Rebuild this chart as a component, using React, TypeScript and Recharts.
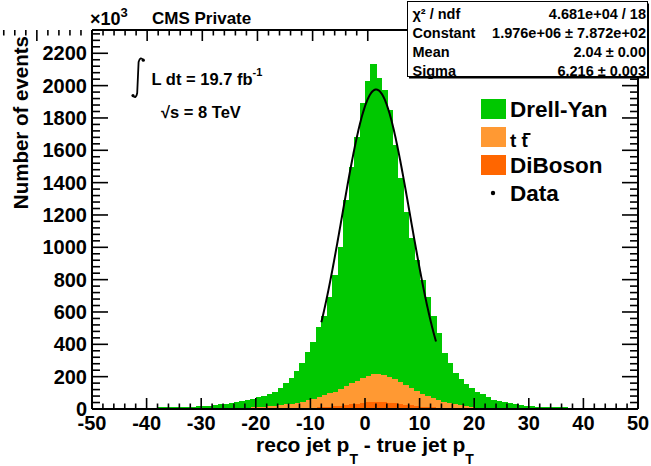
import React from 'react';
import { ComposedChart, Bar, Line, XAxis, YAxis, Legend } from 'recharts';

// Binning: 100 bins of width 1 from -50 to 50 (reco - true jet pT)
const binLowEdges: number[] = Array.from({ length: 100 }, (_, i) => -50 + i);

// Stacked simulated contributions per bin, in units of 10^3 events
const drellYan: number[] = [
  5, 5, 5, 5, 6, 6, 6, 6, 7, 7,
  7, 7, 8, 8, 9, 9, 10, 11, 12, 13,
  14, 17, 20, 24, 28, 32, 37, 42, 48, 54,
  62, 67, 76, 85, 105, 132, 159, 197, 238, 298,
  351, 434, 491, 594, 722, 878, 1152, 1340, 1504, 1703,
  1823, 1918, 1832, 1763, 1650, 1447, 1262, 1069, 929, 808,
  705, 610, 509, 416, 303, 249, 194, 165, 140, 119,
  95, 84, 68, 54, 45, 39, 32, 28, 22, 18,
  15, 13, 12, 11, 10, 9, 9, 8, 8, 7,
  7, 7, 6, 6, 6, 6, 5, 5, 5, 5,
];

const ttbar: number[] = [
  1, 1, 1, 1, 1, 1, 1, 1, 1, 1,
  1, 1, 1, 1, 1, 1, 1, 1, 1, 2,
  2, 2, 3, 3, 3, 4, 5, 6, 7, 7,
  8, 10, 12, 15, 18, 23, 27, 32, 39, 46,
  54, 63, 72, 82, 92, 103, 117, 130, 143, 154,
  163, 170, 172, 168, 160, 149, 136, 123, 108, 93,
  80, 68, 56, 46, 37, 30, 24, 19, 13, 10,
  7, 5, 4, 3, 2, 2, 2, 2, 2, 2,
  1, 1, 1, 1, 1, 1, 1, 1, 1, 1,
  1, 1, 1, 1, 1, 0, 0, 0, 0, 0,
];

const diboson: number[] = [
  0, 0, 0, 0, 0, 0, 0, 0, 0, 0,
  0, 0, 1, 1, 1, 1, 1, 1, 1, 1,
  1, 1, 1, 1, 2, 2, 2, 2, 2, 3,
  3, 3, 4, 4, 5, 5, 6, 7, 7, 8,
  9, 10, 12, 14, 16, 19, 23, 28, 33, 38,
  43, 46, 46, 44, 40, 36, 32, 27, 23, 19,
  15, 12, 10, 8, 6, 5, 4, 3, 3, 2,
  2, 1, 1, 1, 1, 1, 1, 0, 0, 0,
  0, 0, 0, 0, 0, 0, 0, 0, 0, 0,
  0, 0, 0, 0, 0, 0, 0, 0, 0, 0,
];

// Gaussian fit to the stacked distribution
const fitConstant = 1.976e6;
const fitMean = 2.04;
const fitSigma = 6.216;
const fitRange: [number, number] = [-8, 13];
const yUnit = 1e3;

const statNames: string[] = ['χ² / ndf', 'Constant', 'Mean', 'Sigma'];
const statValues: string[] = ['4.681e+04 / 18', '1.976e+06 ± 7.872e+02', '2.04 ± 0.00', '6.216 ± 0.003'];

// Axis labelling
const xTickLabels: number[] = [-50, -40, -30, -20, -10, 0, 10, 20, 30, 40, 50];
const yTickLabels: number[] = [0, 200, 400, 600, 800, 1000, 1200, 1400, 1600, 1800, 2000, 2200];
const xTicks: number[] = Array.from({ length: 51 }, (_, i) => -50 + 2 * i);
const yTicks: number[] = Array.from({ length: 59 }, (_, i) => 40 * i);
const yMax = 2344;

const series = [
  { key: 'dy', name: 'Drell-Yan', color: '#00c800' },
  { key: 'tt', name: 't t', color: '#ff9933' },
  { key: 'db', name: 'DiBoson', color: '#ff6600' },
];

const W = 651;
const H = 466;
const PLOT = { left: 92, top: 30, right: 638, bottom: 409 };
const AXIS_W = 1;
const FONT = '"Liberation Sans", Arial, Helvetica, sans-serif';

const rows = binLowEdges.map((lo, i) => ({
  bin: lo + 0.5,
  db: diboson[i],
  tt: ttbar[i],
  dy: drellYan[i],
}));

const fitCurve = Array.from({ length: 211 }, (_, i) => {
  const x = fitRange[0] + i * 0.1;
  const z = (x - fitMean) / fitSigma;
  return { x, fit: (fitConstant / yUnit) * Math.exp(-0.5 * z * z) };
});

const tickText = {
  fontFamily: FONT,
  fontWeight: 'bold' as const,
  fontSize: 20,
  fill: '#000',
};

const BottomTick = (props: any) => {
  const { x, payload } = props;
  const v = payload.value;
  const major = xTickLabels.includes(v);
  return (
    <g>
      <line x1={x} x2={x} y1={PLOT.bottom} y2={PLOT.bottom - (major ? 11 : 5.5)} stroke="#000" strokeWidth={1.6} />
      {major && (
        <text x={x} y={430} textAnchor="middle" {...tickText}>
          {v}
        </text>
      )}
    </g>
  );
};

const TopTick = (props: any) => {
  const { x, payload } = props;
  const major = xTickLabels.includes(payload.value);
  return <line x1={x} x2={x} y1={PLOT.top} y2={PLOT.top + (major ? 11 : 5.5)} stroke="#000" strokeWidth={1.6} />;
};

const LeftTick = (props: any) => {
  const { y, payload } = props;
  const v = payload.value;
  const major = yTickLabels.includes(v);
  return (
    <g>
      <line x1={PLOT.left} x2={PLOT.left + (major ? 16 : 8)} y1={y} y2={y} stroke="#000" strokeWidth={1.6} />
      {major && (
        <text x={87} y={y + 7} textAnchor="end" {...tickText}>
          {v}
        </text>
      )}
    </g>
  );
};

const RightTick = (props: any) => {
  const { y, payload } = props;
  const major = yTickLabels.includes(payload.value);
  return <line x1={PLOT.right} x2={PLOT.right - (major ? 16 : 8)} y1={y} y2={y} stroke="#000" strokeWidth={1.6} />;
};

// Filled histogram bin: widened slightly so neighbouring bins leave no seam
const BinShape = (props: any) => {
  const { x, y, width, height, fill } = props;
  if (!height || height <= 0) return null;
  return <rect x={x} y={y} width={width + 0.7} height={height} fill={fill} shapeRendering="crispEdges" />;
};

const LegendBox = () => (
  <svg width={180} height={120} style={{ display: 'block' }}>
    {series.map((s, i) => (
      <rect key={s.key} x={11} y={9 + 28 * i} width={25} height={20} fill={s.color} />
    ))}
    <text x={40} y={27} fontFamily={FONT} fontWeight="bold" fontSize={22.5} fill="#000">
      {series[0].name}
    </text>
    <text x={40} y={56.5} fontFamily={FONT} fontWeight="bold" fontSize={19} fill="#000">
      {series[1].name}
    </text>
    <line x1={53.5} x2={60.5} y1={44} y2={44} stroke="#000" strokeWidth={2} />
    <text x={40} y={83} fontFamily={FONT} fontWeight="bold" fontSize={22.5} fill="#000">
      {series[2].name}
    </text>
    <circle cx={23} cy={103} r={2.2} fill="#000" />
    <text x={40} y={111} fontFamily={FONT} fontWeight="bold" fontSize={22.5} fill="#000">
      Data
    </text>
  </svg>
);

const boldText = { fontFamily: FONT, fontWeight: 'bold' as const, fill: '#000' };
const axisLine = { stroke: '#000', strokeWidth: 2 };

export default function App() {
  return (
    <div style={{ position: 'relative', width: W, height: H, background: '#fff' }}>
      <style>{`body{margin:0;background:#fff}`}</style>
      <ComposedChart
        width={W}
        height={H}
        data={rows}
        margin={{
          top: PLOT.top - AXIS_W,
          right: W - PLOT.right - AXIS_W,
          bottom: H - PLOT.bottom - AXIS_W,
          left: PLOT.left - AXIS_W,
        }}
        barCategoryGap={0}
        barGap={0}
      >
        <XAxis xAxisId="num" dataKey="x" type="number" domain={[-50, 50]} allowDataOverflow ticks={xTicks} interval={0} height={AXIS_W} tickSize={0} tickMargin={0} tickLine={false} axisLine={axisLine} tick={BottomTick} />
        <XAxis xAxisId="bins" dataKey="bin" type="category" hide height={0} />
        <XAxis xAxisId="top" orientation="top" type="number" domain={[-50, 50]} allowDataOverflow ticks={xTicks} interval={0} height={AXIS_W} tickSize={0} tickMargin={0} tickLine={false} axisLine={axisLine} tick={TopTick} />
        <YAxis yAxisId="left" type="number" domain={[0, yMax]} allowDataOverflow ticks={yTicks} interval={0} width={AXIS_W} tickSize={0} tickMargin={0} tickLine={false} axisLine={axisLine} tick={LeftTick} />
        <YAxis yAxisId="right" orientation="right" type="number" domain={[0, yMax]} allowDataOverflow ticks={yTicks} interval={0} width={AXIS_W} tickSize={0} tickMargin={0} tickLine={false} axisLine={axisLine} tick={RightTick} />
        {[...series].reverse().map((s) => (
          <Bar
            key={s.key}
            xAxisId="bins"
            yAxisId="left"
            dataKey={s.key}
            name={s.name}
            stackId="mc"
            fill={s.color}
            barSize={5.45}
            shape={BinShape}
            isAnimationActive={false}
          />
        ))}
        <Line
          xAxisId="num"
          yAxisId="left"
          data={fitCurve}
          dataKey="fit"
          type="linear"
          stroke="#000"
          strokeWidth={2}
          dot={false}
          activeDot={false}
          legendType="none"
          isAnimationActive={false}
        />
        <Legend
          layout="vertical"
          align="center"
          verticalAlign="middle"
          content={() => <LegendBox />}
          wrapperStyle={{ position: 'absolute', left: 470, top: 90, width: 180, height: 120 }}
        />
      </ComposedChart>

      <svg
        width={W}
        height={H}
        style={{ position: 'absolute', left: 0, top: 0, pointerEvents: 'none' }}
      >
        {/* y-axis multiplier and header */}
        <text x={90} y={25} fontSize={18} {...boldText}>
          ×10<tspan dy={-8} fontSize={13}>3</tspan>
        </text>
        <text x={152} y={23.5} fontSize={17} {...boldText}>CMS Private</text>

        {/* luminosity and energy */}
        <path d="M143.5 60.5 Q140.5 55.5 138.6 62 L137.2 93 Q136 99.5 132.8 95.5" fill="none" stroke="#000" strokeWidth={1.8} />
        <circle cx={143.3} cy={60.2} r={1.6} fill="#000" />
        <circle cx={133} cy={95.6} r={1.6} fill="#000" />
        <text x={151.5} y={85} fontSize={16.5} {...boldText}>
          L dt = 19.7 fb<tspan dy={-9} fontSize={11}>-1</tspan>
        </text>
        <text x={161} y={118} fontSize={16.5} {...boldText}>√s = 8 TeV</text>

        {/* fit statistics box */}
        <rect x={409} y={3.5} width={240} height={75} fill="#000" />
        <rect x={407.5} y={1.5} width={240} height={75} fill="#fff" stroke="#000" strokeWidth={1} />
        {statNames.map((n, i) => (
          <g key={n}>
            <text x={412.5} y={19 + 19 * i} fontSize={14.5} {...boldText}>{n}</text>
            <text x={646} y={19 + 19 * i} fontSize={14.5} textAnchor="end" {...boldText}>{statValues[i]}</text>
          </g>
        ))}

        {/* axis titles */}
        <text transform="rotate(-90)" x={-36} y={28} textAnchor="end" fontSize={20.5} {...boldText}>
          Number of events
        </text>
        <text x={365} y={452} textAnchor="middle" fontSize={21} {...boldText}>
          reco jet p<tspan dy={11.5} fontSize={14}>T</tspan>
          <tspan dy={-11.5}>{' - true jet p'}</tspan>
          <tspan dy={11.5} fontSize={14}>T</tspan>
        </text>
      </svg>
    </div>
  );
}
